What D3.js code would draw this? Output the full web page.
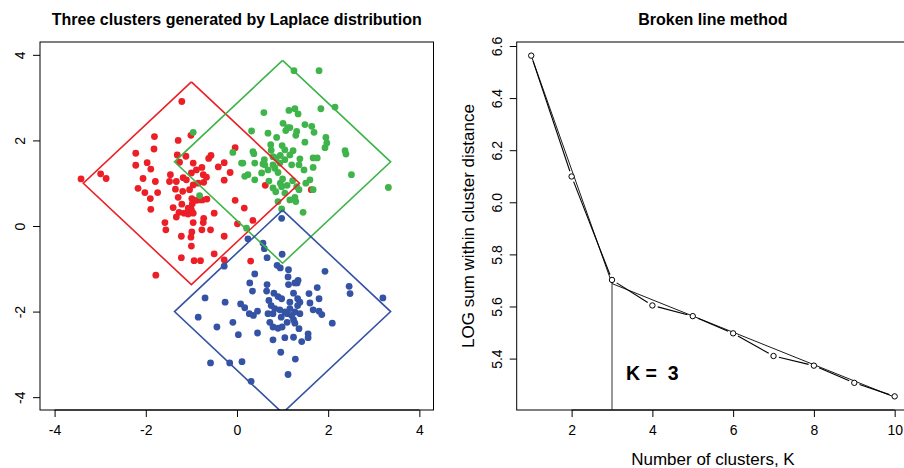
<!DOCTYPE html>
<html>
<head>
<meta charset="utf-8">
<script src="https://cdn.jsdelivr.net/npm/d3@7"></script>
<style>
  html, body { margin: 0; padding: 0; background: #fff; }
  svg { display: block; font-family: "Liberation Sans", Arial, Helvetica, sans-serif; }
</style>
</head>
<body>
<svg id="chart" width="904" height="468"></svg>
<script>
// ---- Cluster samples (x, y) ----
const redPoints = [
  [-3.42,1.10],[-2.99,1.22],[-2.87,1.11],[-1.21,2.91],[-1.01,2.12],[-1.81,2.09],[-1.82,1.80],[-2.22,1.70],
  [-2.22,1.42],[-1.97,1.48],[-1.89,1.33],[-2.06,1.11],[-1.79,1.04],[-2.17,0.88],[-2.02,0.78],[-1.90,0.64],
  [-1.74,0.78],[-1.89,0.39],[-1.29,2.00],[-1.31,1.66],[-1.12,1.63],[-1.26,1.49],[-0.96,1.47],[-0.77,1.37],
  [-0.57,1.65],[-0.62,1.58],[-0.41,1.38],[-0.28,1.48],[-0.15,1.25],[-0.28,1.07],[-0.04,1.83],[-1.46,1.20],
  [-1.48,1.04],[-1.33,1.04],[-1.18,1.13],[-1.11,1.08],[-1.00,1.24],[-0.89,1.31],[-0.74,1.20],[-0.85,1.00],
  [-0.73,1.02],[-0.67,1.14],[-0.96,0.96],[-1.04,0.85],[-1.35,0.86],[-1.19,0.81],[-1.29,0.67],[-0.99,0.64],
  [-0.89,0.60],[-0.82,0.61],[-0.76,0.61],[-0.66,0.63],[-0.98,0.52],[-0.04,0.60],[0.16,0.42],[0.62,0.95],
  [-1.40,0.43],[-1.21,0.51],[-1.27,0.32],[-1.33,0.21],[-1.16,0.30],[-1.07,0.42],[-1.00,0.38],[-1.07,0.28],
  [-0.96,0.30],[-0.50,0.30],[-0.73,0.18],[-0.74,0.08],[-0.96,0.08],[-1.58,0.08],[-1.56,-0.09],[-0.99,-0.14],
  [-0.77,-0.09],[-0.58,-0.09],[0.01,0.05],[0.35,0.13],[1.63,0.85],[-1.22,-0.24],[-1.01,-0.26],[-0.28,-0.24],
  [-1.00,-0.47],[-1.22,-0.74],[-0.94,-0.81],[-0.80,-0.81],[-0.50,-0.65],[-0.28,-0.79],[0.30,-0.82],[-1.78,-1.15]
];
const greenPoints = [
  [1.25,3.63],[1.80,3.63],[2.15,2.78],[1.84,2.74],[1.27,2.74],[1.34,2.62],[1.49,2.37],[1.64,2.33],
  [1.31,2.21],[1.29,2.12],[1.69,2.19],[1.95,2.07],[1.97,1.94],[1.93,1.83],[1.49,1.96],[1.16,2.30],
  [2.37,1.76],[2.39,1.68],[1.23,1.76],[1.16,1.66],[1.38,1.57],[1.67,1.59],[1.76,1.59],[1.20,1.43],
  [1.36,1.43],[1.47,1.31],[1.67,1.37],[2.51,1.20],[1.60,1.08],[1.22,1.06],[1.51,1.00],[1.31,0.92],
  [1.36,0.85],[1.67,0.85],[1.27,0.67],[1.29,0.57],[1.45,0.32],[3.32,0.90],[-0.96,2.19],[-0.09,1.72],
  [0.59,2.65],[1.14,2.70],[1.01,2.40],[1.11,2.30],[0.32,2.22],[0.68,2.17],[0.87,2.07],[0.74,1.90],
  [0.35,1.74],[0.99,1.88],[1.05,1.78],[0.13,1.47],[0.39,1.47],[0.61,1.43],[0.79,1.43],[0.83,1.35],
  [0.24,1.20],[0.17,1.16],[0.39,1.08],[0.54,1.24],[0.68,1.31],[0.94,1.47],[0.79,0.89],[0.98,0.92],
  [1.05,0.77],[0.90,0.57],[1.16,0.61],[-0.82,0.71],[0.21,-0.05],[0.37,1.69],[0.10,1.47],[0.57,1.45],
  [0.79,1.62],[0.86,1.59],[0.90,1.25],[1.07,2.23],[0.75,1.77],[0.95,1.65],[1.05,1.55],[0.70,1.05],
  [1.00,1.10],[0.85,0.80],[0.98,0.40],[0.95,1.00],[1.10,0.95],[0.60,1.55]
];
const bluePoints = [
  [0.98,0.18],[0.24,-0.30],[0.57,-0.40],[0.60,-0.53],[0.99,-0.66],[0.66,-0.74],[-0.28,-0.94],[0.88,-0.92],
  [0.95,-0.98],[1.13,-1.02],[1.12,-1.19],[1.34,-1.27],[1.32,-1.33],[1.13,-1.37],[1.93,-1.06],[0.39,-1.12],
  [0.28,-1.33],[0.66,-1.37],[0.34,-1.52],[0.65,-1.52],[0.81,-1.57],[0.90,-1.65],[0.98,-1.70],[1.24,-1.57],
  [1.33,-1.70],[1.58,-1.58],[1.76,-1.44],[1.80,-1.70],[2.46,-1.41],[2.48,-1.58],[3.20,-1.68],[-0.70,-1.68],
  [-0.26,-1.78],[0.08,-1.82],[0.17,-1.91],[0.27,-2.05],[0.45,-1.99],[0.36,-2.09],[-0.85,-2.13],[-0.09,-2.25],
  [-0.44,-2.36],[0.03,-2.54],[0.45,-2.50],[0.70,-1.74],[0.75,-1.86],[0.68,-2.05],[0.83,-1.93],[0.79,-2.05],
  [0.72,-2.25],[0.79,-2.36],[0.90,-2.39],[0.99,-2.36],[0.97,-2.13],[1.10,-2.05],[1.16,-1.78],[1.20,-2.09],
  [1.27,-2.01],[1.33,-1.86],[1.38,-1.78],[1.38,-2.05],[1.24,-2.19],[1.36,-2.40],[1.56,-2.52],[1.56,-2.61],
  [1.42,-2.70],[1.24,-2.60],[1.05,-2.61],[0.79,-2.66],[1.60,-1.80],[1.67,-1.96],[1.80,-1.99],[1.86,-2.07],
  [2.09,-2.27],[0.96,-2.95],[1.28,-3.11],[-0.58,-3.20],[-0.16,-3.20],[0.11,-3.17],[1.12,-3.47],[0.31,-3.63],
  [0.94,-1.96],[1.05,-2.01],[1.16,-1.93],[1.10,-2.25],[1.27,-1.33],[1.27,-2.27]
];

// Diamond (L1 ball) around each cluster centre
const clusterCenters = [[-1, 1], [1, 1.5], [1, -2]];
const clusterRadius = 2.37;
const clusterColors = ["#EC1F26", "#3FB44A", "#3553A4"];

// ---- Elbow curve ----
const kValues = [1, 2, 3, 4, 5, 6, 7, 8, 9, 10];
const logWithinSS = [6.563, 6.099, 5.702, 5.604, 5.563, 5.497, 5.410, 5.373, 5.307, 5.255];
// two-piece broken line fitted to the curve, knot at K = 3
const brokenK = [1, 3, 10];
const brokenY = [6.563, 5.688, 5.252];
const chosenK = 3;

const leftTicks = [-4, -2, 0, 2, 4];
const rightXTicks = [2, 4, 6, 8, 10];
const rightYTicks = [5.4, 5.6, 5.8, 6.0, 6.2, 6.4, 6.6];

const svg = d3.select("#chart");
const FONT = '"Liberation Sans", Arial, Helvetica, sans-serif';
const intFmt = d => String(d);          // plain ASCII hyphen for negatives
const oneDec = d => d.toFixed(1);

// ---------- Left panel: scatter of the three clusters ----------
const L = { left: 40, right: 433.5, top: 42, bottom: 410 };
const lx = d3.scaleLinear().domain([-4.32, 4.31]).range([L.left, L.right]);
const ly = d3.scaleLinear().domain([-4.3, 4.3]).range([L.bottom, L.top]);

svg.append("defs").append("clipPath").attr("id", "leftClip")
  .append("rect").attr("x", L.left).attr("y", L.top)
  .attr("width", L.right - L.left).attr("height", L.bottom - L.top);

const left = svg.append("g");
const pointsG = left.append("g").attr("clip-path", "url(#leftClip)");
[redPoints, greenPoints, bluePoints].forEach((pts, i) => {
  pointsG.selectAll(null).data(pts).enter().append("circle")
    .attr("cx", d => lx(d[0])).attr("cy", d => ly(d[1]))
    .attr("r", 3.4).attr("fill", clusterColors[i]);
});

const diamondLine = d3.line().x(d => lx(d[0])).y(d => ly(d[1]));
clusterCenters.forEach((c, i) => {
  const r = clusterRadius;
  const verts = [[c[0], c[1] + r], [c[0] + r, c[1]], [c[0], c[1] - r], [c[0] - r, c[1]], [c[0], c[1] + r]];
  pointsG.append("path").attr("d", diamondLine(verts))
    .attr("fill", "none").attr("stroke", clusterColors[i]).attr("stroke-width", 1.6);
});

left.append("rect").attr("x", L.left).attr("y", L.top)
  .attr("width", L.right - L.left).attr("height", L.bottom - L.top)
  .attr("fill", "none").attr("stroke", "#000").attr("stroke-width", 1);

function styleAxis(g, vertical) {
  g.select(".domain").remove();
  g.selectAll(".tick line").attr("stroke", "#000");
  g.selectAll(".tick text").attr("fill", "#000").attr("font-size", 14).attr("font-family", FONT);
  if (vertical) {
    g.selectAll(".tick text").attr("x", null).attr("dy", null)
      .attr("text-anchor", "middle").attr("transform", "translate(-15,0) rotate(-90)");
  } else {
    g.selectAll(".tick text").attr("y", 25).attr("dy", null);
  }
}

const lxAxis = left.append("g").attr("transform", `translate(0,${L.bottom})`)
  .call(d3.axisBottom(lx).tickValues(leftTicks).tickSize(7).tickFormat(intFmt));
styleAxis(lxAxis, false);
left.append("line").attr("x1", lx(-4)).attr("x2", lx(4)).attr("y1", L.bottom).attr("y2", L.bottom).attr("stroke", "#000");

const lyAxis = left.append("g").attr("transform", `translate(${L.left},0)`)
  .call(d3.axisLeft(ly).tickValues(leftTicks).tickSize(7).tickFormat(intFmt));
styleAxis(lyAxis, true);

left.append("text").attr("x", (L.left + L.right) / 2).attr("y", 24.5)
  .attr("text-anchor", "middle").attr("font-weight", "bold").attr("font-size", 16)
  .text("Three clusters generated by Laplace distribution");

// ---------- Right panel: broken line (elbow) method ----------
const R = { left: 516.7, right: 909.2, top: 42, bottom: 410 };
const rx = d3.scaleLinear().domain([0.64, 10.36]).range([R.left, R.right]);
const ry = d3.scaleLinear().domain([5.2027, 6.6153]).range([R.bottom, R.top]);

const right = svg.append("g");
right.append("rect").attr("x", R.left).attr("y", R.top)
  .attr("width", R.right - R.left).attr("height", R.bottom - R.top)
  .attr("fill", "none").attr("stroke", "#000").attr("stroke-width", 1);

// vertical marker at the chosen K
right.append("line")
  .attr("x1", rx(chosenK)).attr("x2", rx(chosenK))
  .attr("y1", R.bottom).attr("y2", ry(brokenY[1]))
  .attr("stroke", "#555").attr("stroke-width", 1.2);

// fitted broken line
right.append("path")
  .attr("d", d3.line().x(d => rx(d[0])).y(d => ry(d[1]))(brokenK.map((k, i) => [k, brokenY[i]])))
  .attr("fill", "none").attr("stroke", "#000").attr("stroke-width", 0.9);

// data curve drawn as points joined by lines with a gap around each point
const gap = 5.5;
const pts = kValues.map((k, i) => [rx(k), ry(logWithinSS[i])]);
for (let i = 0; i < pts.length - 1; i++) {
  const [x0, y0] = pts[i], [x1, y1] = pts[i + 1];
  const len = Math.hypot(x1 - x0, y1 - y0);
  if (len <= 2 * gap) continue;
  const ux = (x1 - x0) / len, uy = (y1 - y0) / len;
  right.append("line")
    .attr("x1", x0 + ux * gap).attr("y1", y0 + uy * gap)
    .attr("x2", x1 - ux * gap).attr("y2", y1 - uy * gap)
    .attr("stroke", "#000").attr("stroke-width", 1.1);
}
right.selectAll(null).data(kValues).enter().append("circle")
  .attr("cx", (d) => rx(d)).attr("cy", (d, i) => ry(logWithinSS[i]))
  .attr("r", 2.7).attr("fill", "#fff").attr("stroke", "#000").attr("stroke-width", 1);

const rxAxis = right.append("g").attr("transform", `translate(0,${R.bottom})`)
  .call(d3.axisBottom(rx).tickValues(rightXTicks).tickSize(7).tickFormat(intFmt));
styleAxis(rxAxis, false);
right.append("line").attr("x1", rx(2)).attr("x2", rx(10)).attr("y1", R.bottom).attr("y2", R.bottom).attr("stroke", "#000");

const ryAxis = right.append("g").attr("transform", `translate(${R.left},0)`)
  .call(d3.axisLeft(ry).tickValues(rightYTicks).tickSize(7).tickFormat(oneDec));
styleAxis(ryAxis, true);

right.append("text").attr("x", (R.left + R.right) / 2).attr("y", 24.5)
  .attr("text-anchor", "middle").attr("font-weight", "bold").attr("font-size", 16)
  .text("Broken line method");

right.append("text").attr("x", (R.left + R.right) / 2).attr("y", 464.5)
  .attr("text-anchor", "middle").attr("font-size", 17)
  .text("Number of clusters, K");

right.append("text")
  .attr("transform", `translate(474,${(R.top + R.bottom) / 2}) rotate(-90)`)
  .attr("text-anchor", "middle").attr("font-size", 17)
  .text("LOG sum within cluster distance");

right.append("text").attr("x", rx(4)).attr("y", ry(5.344)).attr("dy", "0.35em")
  .attr("text-anchor", "middle").attr("font-weight", "bold").attr("font-size", 19.5)
  .attr("xml:space", "preserve").style("white-space", "pre")
  .text("K =  3");
</script>
</body>
</html>
